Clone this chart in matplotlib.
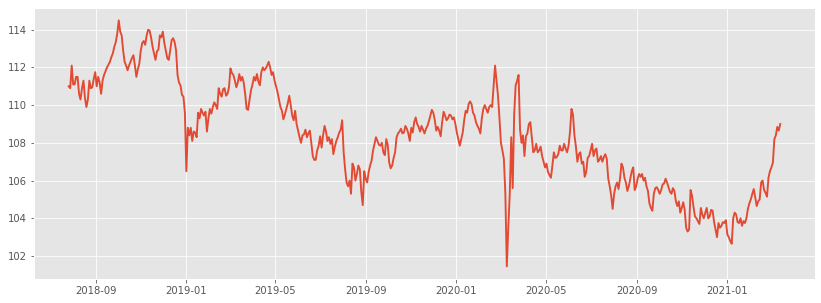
import matplotlib
matplotlib.use("Agg")
import matplotlib.pyplot as plt
import matplotlib.dates as mdates
import pandas as pd

# USD/JPY, every 2 days
start_date = "2018-07-26"
end_date = "2021-03-14"
rate = [
    111.0, 110.9, 112.1, 111.1, 111.1, 111.5, 111.5, 110.6, 110.3, 110.9,
    111.3, 110.4, 109.9, 110.3, 111.3, 110.9, 110.95, 111.4, 111.75, 111.0,
    111.5, 111.2, 110.6, 111.3, 111.6, 111.8, 112.0, 112.15, 112.3, 112.55,
    112.75, 113.1, 113.35, 113.8, 114.5, 113.9, 113.7, 112.9, 112.3, 112.1,
    111.85, 112.1, 112.3, 112.5, 112.65, 112.1, 111.5, 111.9, 112.2, 112.9,
    113.3, 113.4, 113.2, 113.7, 114.0, 113.95, 113.6, 113.1, 112.75, 112.4,
    112.85, 112.95, 113.7, 113.6, 113.9, 113.3, 112.9, 112.5, 112.4, 112.9,
    113.45, 113.55, 113.35, 112.9, 111.6, 111.2, 111.05, 110.55, 110.45, 109.6,
    106.5, 108.8, 108.4, 108.8, 108.1, 108.6, 108.55, 108.3, 109.6, 109.3,
    109.8, 109.6, 109.45, 109.65, 108.6, 109.3, 109.8, 109.55, 109.9, 110.15,
    110.0, 109.8, 110.9, 110.6, 110.45, 110.85, 110.9, 110.5, 110.6, 110.95,
    111.95, 111.7, 111.6, 111.3, 110.95, 111.2, 111.65, 111.3, 111.5, 111.2,
    110.6, 109.8, 109.75, 110.3, 110.8, 111.1, 111.5, 111.3, 111.65, 111.25,
    111.05, 111.75, 112.0, 111.85, 111.95, 112.1, 112.3, 112.0, 111.6, 111.75,
    111.3, 111.0, 110.7, 110.3, 109.9, 109.7, 109.25, 109.5, 109.8, 110.1,
    110.5, 110.0, 109.45, 109.2, 109.7, 109.0, 108.65, 108.3, 108.0, 108.4,
    108.45, 108.7, 108.3, 108.5, 108.65, 108.0, 107.3, 107.1, 107.1, 107.6,
    107.85, 108.35, 107.75, 108.4, 108.9, 108.6, 108.1, 108.3, 107.95, 108.2,
    107.4, 107.8, 108.1, 108.3, 108.55, 108.7, 109.2, 107.5, 106.6, 105.9,
    105.7, 106.0, 105.3, 106.9, 106.7, 106.0, 106.35, 106.8, 106.6, 105.4,
    104.7, 106.5, 106.1, 105.9, 106.45, 106.8, 107.05, 107.6, 107.95, 108.3,
    108.1, 107.9, 107.85, 108.0, 107.5, 107.35, 108.2, 107.9, 106.95, 106.65,
    106.8, 107.2, 107.5, 108.3, 108.5, 108.6, 108.75, 108.5, 108.55, 108.9,
    108.75, 108.5, 108.1, 108.8, 108.55, 109.1, 109.35, 109.0, 108.85, 108.6,
    108.9, 108.7, 108.5, 108.75, 108.9, 109.15, 109.45, 109.75, 109.6, 109.2,
    108.65, 108.85, 108.65, 108.35, 109.1, 109.65, 109.45, 109.2, 109.3, 109.5,
    109.45, 109.25, 109.35, 109.0, 108.55, 108.2, 107.85, 108.2, 108.55, 109.2,
    109.7, 109.6, 110.05, 110.2, 110.05, 109.6, 109.45, 109.1, 108.9, 108.75,
    108.5, 109.3, 109.8, 110.0, 109.8, 109.6, 109.9, 110.0, 109.9, 111.0,
    112.1, 111.3, 110.5, 109.3, 108.0, 107.6, 107.15, 105.3, 101.45, 103.5,
    105.3, 108.3, 105.6, 109.5, 111.05, 111.3, 111.6, 108.7, 108.0, 108.4,
    107.3, 108.35, 108.5, 109.0, 109.1, 108.3, 107.5, 107.6, 107.95, 107.5,
    107.6, 107.8, 107.3, 107.0, 106.7, 106.9, 106.45, 106.3, 106.15, 106.8,
    107.5, 107.2, 107.25, 107.4, 107.85, 107.6, 107.6, 107.95, 107.7, 107.5,
    107.85, 108.6, 109.8, 109.5, 108.4, 107.8, 107.0, 107.4, 107.5, 106.9,
    107.0, 106.2, 106.45, 107.2, 107.3, 107.6, 107.95, 107.3, 107.6, 107.7,
    107.0, 107.1, 107.3, 107.0, 107.25, 107.4, 107.15, 106.1, 105.7, 105.2,
    104.5, 105.3, 105.7, 105.9, 105.55, 106.1, 106.9, 106.7, 106.15, 105.9,
    105.45, 105.7, 106.1, 106.5, 106.7, 105.5, 105.7, 106.1, 106.35, 106.2,
    106.35, 106.0, 106.15, 105.7, 105.45, 104.8, 104.55, 104.4, 105.3, 105.6,
    105.65, 105.5, 105.3, 105.5, 105.8, 105.85, 106.1, 105.9, 105.65, 105.4,
    105.3, 105.6, 105.45, 104.9, 104.65, 104.9, 104.3, 104.55, 104.85, 104.45,
    103.5, 103.3, 103.4, 105.5, 105.2, 104.6, 104.1, 104.0, 103.85, 103.7,
    104.55, 104.2, 104.0, 104.3, 104.55, 104.0, 104.1, 104.45, 104.4, 103.8,
    103.4, 103.0, 103.75, 103.5, 103.6, 103.8, 103.75, 103.9, 103.15, 103.0,
    102.8, 102.65, 104.0, 104.3, 104.2, 103.8, 103.75, 104.0, 103.6, 103.85,
    103.75, 104.0, 104.5, 104.8, 105.0, 105.3, 105.55, 105.1, 104.65, 104.9,
    105.0, 105.9, 106.0, 105.5, 105.35, 105.15, 106.15, 106.5, 106.7, 106.95,
    108.2, 108.4, 108.85, 108.65, 109.0,
]

dates = pd.date_range(start_date, end_date, periods=len(rate))

plt.style.use("ggplot")
fig = plt.figure(figsize=(821 / 72, 303 / 72), dpi=72)
ax = fig.add_axes([34 / 821, 24.3 / 303, 781 / 821, 270.7 / 303])

ax.plot(dates, rate, color="#E24A33", linewidth=1.9)

ax.set_xlim(pd.Timestamp("2018-06-09"), pd.Timestamp("2021-04-30"))
ax.xaxis.set_major_locator(mdates.MonthLocator(bymonth=[1, 5, 9]))
ax.xaxis.set_major_formatter(mdates.DateFormatter("%Y-%m"))

fig.savefig("out.png", dpi=72)
